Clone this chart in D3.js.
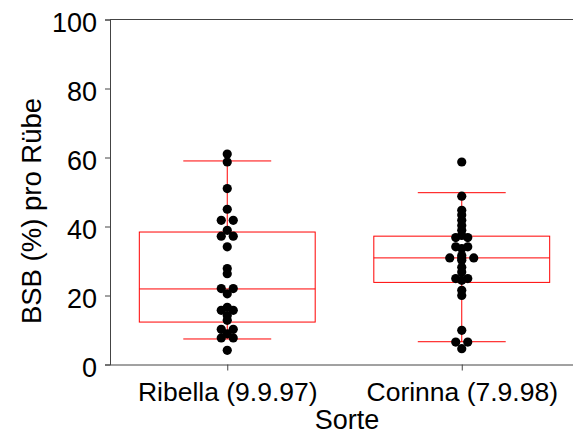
<!DOCTYPE html>
<html><head><meta charset="utf-8">
<script src="https://cdn.jsdelivr.net/npm/d3@7"></script>
<style>body{margin:0;background:#fff}svg{display:block}text{font-family:"Liberation Sans",Arial,sans-serif;fill:#000}</style>
</head><body><svg id="c" width="573" height="435"></svg>
<script>
const categories = ["Ribella (9.9.97)", "Corinna (7.9.98)"];
const ribellaValues = [61, 58.7, 51, 45, 41.8, 41.8, 38.9, 37.2, 37.2, 34.1, 27.8, 26.3, 22, 22, 20.5, 16.6, 15.7, 15.7, 14.2, 12.8, 10.2, 10.2, 8.9, 7.7, 7.7, 4.1];
const corinnaValues = [58.7, 48.8, 44.7, 43.3, 41.8, 40.3, 38.9, 37.4, 36.8, 36.8, 34.1, 34.1, 33.6, 31.6, 30.9, 30.9, 30.9, 30.2, 28.2, 26.8, 24.9, 24.9, 24.4, 21.5, 20.0, 9.9, 6.5, 6.5, 4.6];
const whiskerLow = [7.4, 6.6];
const q1 = [12.3, 23.8];
const median = [21.9, 30.9];
const q3 = [38.4, 37.2];
const whiskerHigh = [59.0, 49.8];
const yTicks = [0, 20, 40, 60, 80, 100];
const yTitle = "BSB (%) pro Rübe";
const xTitle = "Sorte";

const values = [ribellaValues, corinnaValues];
const svg = d3.select("#c");
const L = 110, T = 19.5, B = 364.5, R = 579;
const x = d3.scalePoint().domain(categories).range([L, R]).padding(0.5);
const y = d3.scaleLinear().domain([0, 100]).range([B, T]);
const step = x.step();
const boxW = step * 0.75, capW = step * 0.375;

// frame top line
svg.append("line").attr("x1", L).attr("x2", 573).attr("y1", T).attr("y2", T)
  .attr("stroke", "#444").attr("stroke-width", 1);

// y axis
const ya = svg.append("g").attr("transform", `translate(${L},0)`)
  .call(d3.axisLeft(y).tickValues(yTicks).tickSize(5).tickPadding(8));
ya.selectAll("path,line").attr("stroke", "#444");
ya.selectAll("text").style("font-size", "27px").attr("dy", "0.43em").attr("fill", "#000");

// x axis
const xa = svg.append("g").attr("transform", `translate(0,${B})`)
  .call(d3.axisBottom(x).tickSize(6).tickSizeOuter(0).tickPadding(12));
xa.select("path").attr("d", `M${L},0.5H573`).attr("stroke", "#444");
xa.selectAll("line").attr("stroke", "#444");
xa.selectAll("text").style("font-size", "26.5px").attr("fill", "#000");

// boxes
const g = svg.append("g");
categories.forEach((c, i) => {
  const cx = x(c);
  const red = "#ff0000";
  g.append("line").attr("x1", cx).attr("x2", cx).attr("y1", y(whiskerLow[i])).attr("y2", y(q1[i])).attr("stroke", red);
  g.append("line").attr("x1", cx).attr("x2", cx).attr("y1", y(q3[i])).attr("y2", y(whiskerHigh[i])).attr("stroke", red);
  g.append("line").attr("x1", cx - capW/2).attr("x2", cx + capW/2).attr("y1", y(whiskerLow[i])).attr("y2", y(whiskerLow[i])).attr("stroke", red);
  g.append("line").attr("x1", cx - capW/2).attr("x2", cx + capW/2).attr("y1", y(whiskerHigh[i])).attr("y2", y(whiskerHigh[i])).attr("stroke", red);
  g.append("rect").attr("x", cx - boxW/2).attr("y", y(q3[i])).attr("width", boxW).attr("height", y(q1[i]) - y(q3[i]))
    .attr("fill", "none").attr("stroke", red);
  g.append("line").attr("x1", cx - boxW/2).attr("x2", cx + boxW/2).attr("y1", y(median[i])).attr("y2", y(median[i])).attr("stroke", red);

  // dots: identical values spread symmetrically
  const groups = d3.group(values[i], v => v);
  const pts = [];
  groups.forEach((arr, v) => {
    const n = arr.length;
    arr.forEach((_, k) => pts.push({v, off: (k - (n - 1) / 2) * 12}));
  });
  g.selectAll(null).data(pts).enter().append("circle")
    .attr("cx", d => cx + d.off).attr("cy", d => y(d.v)).attr("r", 4.6).attr("fill", "#000");
});

// titles
svg.append("text").attr("transform", `translate(41,211) rotate(-90)`).attr("text-anchor", "middle")
  .style("font-size", "27.5px").text(yTitle);
svg.append("text").attr("x", 347).attr("y", 429).attr("text-anchor", "middle")
  .style("font-size", "27px").text(xTitle);
</script></body></html>
